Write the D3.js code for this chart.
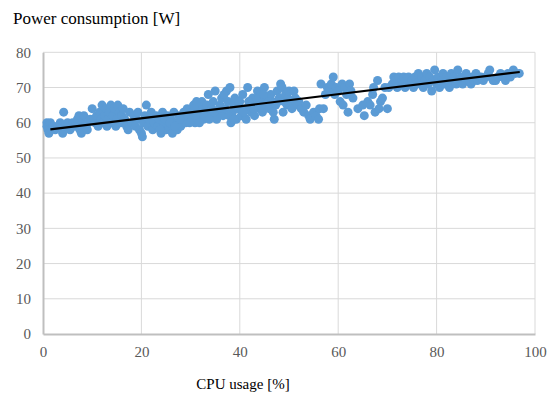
<!DOCTYPE html>
<html>
<head>
<meta charset="utf-8">
<script src="https://cdn.jsdelivr.net/npm/d3@7"></script>
<style>
  body { margin: 0; background: #fff; }
  svg text { font-family: "Liberation Serif", Tinos, "Times New Roman", Times, "DejaVu Serif", serif !important; }
</style>
</head>
<body>
<div id="chart"></div>
<script>
// samples: [cpu usage %, power W]
const idleLoad = [
  [0.8,60],[0.8,59],[1,58],[1.2,57],[1.5,60],[2,59],[2.5,58],[3,59],[3.5,60],[4,57],
  [4.2,63],[4.5,59],[5,60],[5.5,58],[6,60],[6.5,59],[7,61],[7.3,62],[7.5,58],[7.8,57],
  [8,60],[8.3,62],[8.5,59],[9,58],[9.2,60],[9.6,61]
];
const lowLoad = [
  [10,64],[10.3,61],[10.6,60],[10.9,62],[11.2,59],[11.5,63],[11.8,61],[12,65],[12.2,60],[12.5,62],
  [12.8,64],[13,59],[13.2,61],[13.5,63],[13.8,65],[14,60],[14.2,62],[14.5,64],[14.8,59],[15,61],
  [15.2,65],[15.5,63],[15.8,60],[16,62],[16.3,64],[16.6,61],[17,59],[17.3,58],[17.6,63],[18,60],
  [18.5,62],[18.8,59],[19,61],[19.3,63],[19.6,58],[20,57],[20.2,56],[20.4,60],[20.7,62],[21,65],
  [21.3,59],[21.6,61],[22,63],[22.3,58],[22.6,60]
];
const midLoad = [
  [23,62],[23.3,59],[23.6,61],[24,57],[24.3,63],[24.6,60],[25,58],[25.3,62],[25.6,59],[26,61],
  [26.3,57],[26.6,63],[27,60],[27.3,58],[27.6,62],[28,59],[28.3,61],[28.6,63],[29,60],[29.3,64],
  [29.6,62],[30,61],[30.3,63],[30.6,65],[30.9,60],[31.5,62],[32,64],[32.3,66],[32.6,61],[33,63],
  [33.3,65],[33.6,68],[34,62],[34.3,64],[34.6,66],[35,69],[35.3,61],[35.6,63],[36,65],[36.3,67],
  [36.6,62],[37,64],[37.3,69],[37.6,66],[38,70],[38.2,60],[38.5,63],[38.8,65],[39,67],[39.3,61],
  [39.6,64],[40,66],[40.3,62],[40.6,68],[41,64],[41.3,61],[41.6,70],[42,65],[42.3,63],[42.6,67],
  [43,62],[43.3,65],[43.6,69],[44,64],[44.3,66],[44.6,63],[45,70],[45.3,65],[45.6,67],[46,64],
  [46.3,68],[46.6,66],[47,61],[47.3,65],[47.6,69],[48,67],[48.3,71],[48.6,70],[49,66],[49.3,68],
  [49.6,65],[28.8,62],[29.8,60],[30.8,64],[31.2,66],[31.8,60],[32.8,62],[33.8,61],[34.8,63],[35.8,64],
  [36.8,68],[37.8,62],[38.8,61],[39.8,66],[40.8,63],[41.8,66],[42.8,64],[43.8,67],[44.8,68],[45.8,66],
  [46.8,63],[47.8,66],[48.8,63],[49.8,67],[24.8,61],[25.8,60],[26.8,59],[27.8,61],[23.8,58]
];
const upperLoad = [
  [50,69],[50.3,66],[50.6,64],[51,69],[51.3,67],[51.7,65],[52,66],[52.5,64],[53,63],[53.5,65],
  [54,62],[54.3,61],[55,63],[55.5,62],[56,61],[56.2,64],[56.5,71],[57,64],[57.4,68],[57.8,70],
  [58.2,69],[58.6,71],[59,73],[59.3,68],[59.6,70],[60,69],[60.4,66],[60.8,71],[61,65],[61.3,70],
  [61.7,68],[62,63],[62.3,71],[62.6,69],[63,67],[64,64],[65,65],[65.3,62],[66,66],[66.5,65],
  [67,68],[67.2,70],[67.5,63],[68,72],[68.3,64],[68.6,66],[69,67],[69.5,70],[70,64],[70.3,70]
];
const highLoad = [
  [71,71],[71.3,73],[71.6,72],[72,70],[72.3,73],[72.6,71],[73,72],[73.3,73],[73.6,70],[74,72],
  [74.3,73],[74.6,71],[75,72],[75.3,70],[75.6,73],[76,71],[76.3,74],[76.6,72],[77,73],[77.3,70],
  [77.6,72],[78,74],[78.3,71],[78.6,73],[79,69],[79.3,72],[79.6,75],[80,71],[80.3,73],[80.6,70],
  [81,72],[81.3,74],[81.6,71],[82,73],[82.3,72],[82.6,70],[83,74],[83.3,72],[83.6,73],[84,71],
  [84.3,75],[84.6,72],[85,73],[85.3,71],[85.6,72],[86,74],[86.3,73],[86.6,72],[87,71],[87.3,73],
  [87.6,72],[88,74],[88.3,72],[89,73],[89.5,72],[90,73],[90.5,74],[90.8,75],[91.5,72],[92,72],
  [92.5,73],[93,74],[93.6,73],[94,72],[94.5,74],[95,73],[95.6,75],[96,74],[96.8,74]
];
// linear trend line end points
const trendCpu = [1.5, 96.9];
const trendPower = [58.1, 74.4];

const xTicks = [0, 20, 40, 60, 80, 100];
const yTicks = [0, 10, 20, 30, 40, 50, 60, 70, 80];

const serif = "'Liberation Serif', Tinos, 'Times New Roman', Times, 'DejaVu Serif', serif";
const width = 554, height = 397;
const plot = { left: 43, right: 535, top: 52.3, bottom: 334 };

const svg = d3.select("#chart").append("svg")
  .attr("width", width)
  .attr("height", height)
  .attr("font-family", serif);

const x = d3.scaleLinear().domain([0, 100]).range([plot.left, plot.right]);
const y = d3.scaleLinear().domain([0, 80]).range([plot.bottom, plot.top]);

// gridlines
svg.append("g")
  .selectAll("line.h")
  .data(yTicks.filter(d => d > 0))
  .enter().append("line")
  .attr("x1", plot.left).attr("x2", plot.right)
  .attr("y1", d => y(d)).attr("y2", d => y(d))
  .style("stroke", "#d9d9d9").style("stroke-width", 1);

svg.append("g")
  .selectAll("line.v")
  .data(xTicks.filter(d => d > 0))
  .enter().append("line")
  .attr("x1", d => x(d)).attr("x2", d => x(d))
  .attr("y1", plot.top).attr("y2", plot.bottom)
  .style("stroke", "#d9d9d9").style("stroke-width", 1);

// axes
const xAxis = svg.append("g")
  .attr("transform", "translate(0," + plot.bottom + ")")
  .call(d3.axisBottom(x).tickValues(xTicks).tickSize(0).tickPadding(12));
const yAxis = svg.append("g")
  .attr("transform", "translate(" + plot.left + ",0)")
  .call(d3.axisLeft(y).tickValues(yTicks).tickSize(0).tickPadding(12));

[xAxis, yAxis].forEach(g => {
  g.attr("font-family", serif).attr("font-size", 15);
  g.select(".domain").style("stroke", "#bfbfbf").style("stroke-width", 2);
  g.selectAll("text").style("fill", "#595959");
});

// points
const allSamples = idleLoad.concat(lowLoad, midLoad, upperLoad, highLoad);
svg.append("g")
  .selectAll("circle")
  .data(allSamples)
  .enter().append("circle")
  .attr("cx", d => x(d[0]))
  .attr("cy", d => y(d[1]))
  .attr("r", 4.5)
  .style("fill", "#5b9bd5");

// trend line
svg.append("line")
  .attr("x1", x(trendCpu[0])).attr("y1", y(trendPower[0]))
  .attr("x2", x(trendCpu[1])).attr("y2", y(trendPower[1]))
  .style("stroke", "#000").style("stroke-width", 2.2);

// titles
svg.append("text")
  .attr("x", 13).attr("y", 24)
  .attr("font-size", 17)
  .style("fill", "#000")
  .text("Power consumption [W]");

svg.append("text")
  .attr("x", 243).attr("y", 389)
  .attr("text-anchor", "middle")
  .attr("font-size", 15)
  .style("fill", "#000")
  .text("CPU usage [%]");
</script>
</body>
</html>
